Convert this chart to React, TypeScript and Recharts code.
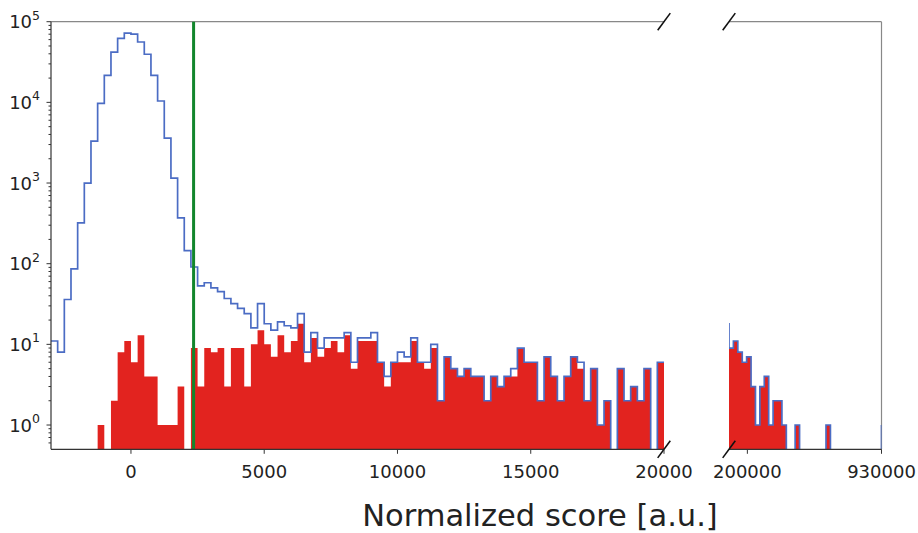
import React from 'react';
import { ComposedChart, Area, Line, XAxis, YAxis, ReferenceLine, ReferenceDot } from 'recharts';

// left panel: 250-wide bins from -3000 up to 20000
const leftStart = -3000;
const leftBinWidth = 250;
const leftTotal = [
  11, 8, 36, 86, 320, 1000, 3300, 9700, 21600, 42000,
  62000, 72000, 70000, 56000, 39500, 21600, 10400, 3600, 1150, 370,
  145, 91, 53, 58, 50, 45, 37, 32, 28, 24,
  16, 32, 18, 15, 19, 17, 16, 24, 8, 14,
  9, 12, 12, 12, 14, 6, 12, 12, 14, 6,
  4, 6, 8, 7, 12, 6, 6, 10, 2, 7,
  5, 4, 5, 4, 4, 2, 4, 3, 4, 5,
  9, 6, 6, 2, 7, 4, 2, 4, 7, 6,
  2, 5, 1, 2, 0, 5, 2, 3, 2, 5,
  0, 6,
];
const leftSelected = [
  0, 0, 0, 0, 0, 0, 0, 1, 0, 2,
  8, 11, 6, 13, 4, 4, 1, 1, 1, 3,
  0, 9, 3, 9, 8, 9, 3, 9, 9, 3,
  10, 15, 10, 7, 13, 8, 11, 18, 6, 12,
  7, 9, 11, 8, 13, 5, 11, 11, 11, 6,
  3, 6, 6, 6, 11, 6, 5, 9, 2, 7,
  5, 4, 5, 4, 4, 2, 4, 3, 4, 4,
  9, 6, 6, 2, 7, 4, 2, 4, 7, 5,
  2, 5, 1, 2, 0, 5, 2, 3, 2, 5,
  0, 6,
];

// right panel: 24000-wide bins, the first one sits just left of the visible range
const rightStart = 76000;
const rightBinWidth = 24000;
const rightTotal = [18, 9, 11, 8, 6, 7, 3, 1, 3, 4, 1, 2, 2, 1, 0, 0, 1, 0, 0, 0, 0, 0, 0, 1, 0];
const rightSelected = [0, 9, 11, 8, 6, 7, 3, 1, 3, 4, 1, 2, 2, 1, 0, 0, 1, 0, 0, 0, 0, 0, 0, 1, 0];
const maxScore = 930000;
const maxScoreCount = 1;

const threshold = 2350;

const leftTicks = [0, 5000, 10000, 15000, 20000];
const rightTicks = [200000, 930000];
const decades = [0.1, 1, 10, 100, 1000, 10000, 100000];
const minorSteps = [2, 3, 4, 5, 6, 7, 8, 9];

const Y_MIN = 0.5;
const Y_MAX = 100000;
const LINE_FLOOR = 0.3;

const RED = '#e2231f';
const BLUE = '#4b6cc4';
const GREEN = '#12862c';
const FONT = 'DejaVu Sans';

const yTicks = [
  ...decades.filter((d) => d >= 1),
  ...decades.flatMap((d) => minorSteps.map((m) => m * d)).filter((v) => v > Y_MIN && v < Y_MAX),
].sort((a, b) => a - b);

function buildRows(start: number, width: number, total: number[], selected: number[]) {
  return total.map((t, i) => ({
    x: start + i * width,
    blue: t > 0 ? t : LINE_FLOOR,
    red: selected[i] > 0 ? selected[i] : Y_MIN,
  }));
}

const leftRows = buildRows(leftStart, leftBinWidth, leftTotal, leftSelected);
const lastL = leftRows[leftRows.length - 1];
leftRows.push({ x: leftStart + leftTotal.length * leftBinWidth, blue: lastL.blue, red: lastL.red });

const rightRows = buildRows(rightStart, rightBinWidth, rightTotal, rightSelected);
rightRows.push({ x: maxScore, blue: maxScoreCount, red: Y_MIN });

function YTick({ x, y, payload }: any) {
  const v = payload.value;
  const lg = Math.log10(v);
  const exp = Math.round(lg);
  const major = Math.abs(lg - exp) < 1e-9;
  return (
    <g>
      <line x1={x - (major ? 4.5 : 2.5)} x2={x} y1={y} y2={y} stroke="#333" strokeWidth={1} />
      {major && (
        <text x={x - 11} y={y + 6.5} textAnchor="end" fontSize={18} fill="#222" fontFamily={FONT}>
          10<tspan dy={-8.5} fontSize={12.5}>{exp}</tspan>
        </text>
      )}
    </g>
  );
}

function XTick({ x, y, payload }: any) {
  return (
    <g>
      <line x1={x} x2={x} y1={y} y2={y + 4.5} stroke="#333" strokeWidth={1} />
      <text x={x} y={y + 28.5} textAnchor="middle" fontSize={18} fill="#222" fontFamily={FONT}>
        {payload.value}
      </text>
    </g>
  );
}

const Slash = ({ cx, cy }: any) => (
  <line x1={cx - 6.3} y1={cy + 8.6} x2={cx + 6.3} y2={cy - 8.6} stroke="#111" strokeWidth={1.6} />
);

const margins = { top: 21.7, bottom: 53.7 };

export default function App() {
  return (
    <div style={{ position: 'absolute', left: 0, top: 0, width: 918, height: 533, overflow: 'hidden', background: '#fff' }}>
      <div style={{ position: 'absolute', left: 0, top: 0 }}>
        <ComposedChart width={700} height={533} data={leftRows}
          margin={{ top: margins.top, right: 36, bottom: margins.bottom, left: 0 }}>
          <XAxis dataKey="x" type="number" domain={[leftStart, 20000]} allowDataOverflow ticks={leftTicks}
            interval={0} tickSize={0} tickMargin={0} height={30} tick={<XTick />}
            axisLine={{ stroke: '#333', strokeWidth: 1.2 }} tickLine={false} />
          <YAxis scale="log" type="number" domain={[Y_MIN, Y_MAX]} allowDataOverflow ticks={yTicks}
            interval={0} width={51} tickSize={0} tickMargin={0} tick={<YTick />}
            axisLine={{ stroke: '#333', strokeWidth: 1.2 }} tickLine={false} />
          <ReferenceLine y={Y_MAX} stroke="#888" strokeWidth={1.2} />
          <Area type="stepAfter" dataKey="red" baseValue={Y_MIN} stroke="none" fill={RED} fillOpacity={1}
            isAnimationActive={false} dot={false} activeDot={false} />
          <Line type="stepAfter" dataKey="blue" stroke={BLUE} strokeWidth={1.7} dot={false} activeDot={false}
            isAnimationActive={false} />
          <ReferenceLine x={threshold} stroke={GREEN} strokeWidth={3} />
          <ReferenceDot x={20000} y={Y_MAX} r={0} ifOverflow="visible" shape={<Slash />} />
          <ReferenceDot x={20000} y={Y_MIN} r={0} ifOverflow="visible" shape={<Slash />} />
        </ComposedChart>
      </div>
      <div style={{ position: 'absolute', left: 690, top: 0 }}>
        <ComposedChart width={228} height={533} data={rightRows}
          margin={{ top: margins.top, right: 36.5, bottom: margins.bottom, left: 39 }}>
          <XAxis dataKey="x" type="number" domain={[100000, maxScore]} allowDataOverflow ticks={rightTicks}
            interval={0} tickSize={0} tickMargin={0} height={30} tick={<XTick />}
            axisLine={{ stroke: '#333', strokeWidth: 1.2 }} tickLine={false} />
          <YAxis scale="log" type="number" domain={[Y_MIN, Y_MAX]} allowDataOverflow hide />
          <ReferenceLine y={Y_MAX} stroke="#888" strokeWidth={1.2} />
          <ReferenceLine x={maxScore} stroke="#888" strokeWidth={1.2} />
          <Area type="stepAfter" dataKey="red" baseValue={Y_MIN} stroke="none" fill={RED} fillOpacity={1}
            isAnimationActive={false} dot={false} activeDot={false} />
          <Line type="stepAfter" dataKey="blue" stroke={BLUE} strokeWidth={1.7} dot={false} activeDot={false}
            isAnimationActive={false} />
          <ReferenceDot x={100000} y={Y_MAX} r={0} ifOverflow="visible" shape={<Slash />} />
          <ReferenceDot x={100000} y={Y_MIN} r={0} ifOverflow="visible" shape={<Slash />} />
        </ComposedChart>
      </div>
      <svg width={918} height={533} style={{ position: 'absolute', left: 0, top: 0, pointerEvents: 'none' }}>
        <text x={540} y={526} textAnchor="middle" fontSize={30.5} fill="#222" fontFamily={FONT}>
          Normalized score [a.u.]
        </text>
      </svg>
    </div>
  );
}
